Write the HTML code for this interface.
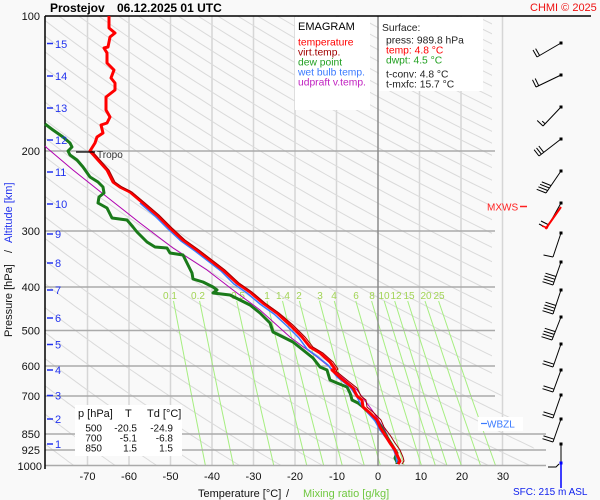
<!DOCTYPE html>
<html><head><meta charset="utf-8"><style>
html,body{margin:0;padding:0;background:#f9f9f9;}
svg{display:block;font-family:"Liberation Sans",Arial,sans-serif;}
</style></head><body>
<svg width="600" height="500" viewBox="0 0 600 500" xmlns="http://www.w3.org/2000/svg">
<defs><clipPath id="cp"><polygon points="45,16 492,16 492,380 545,466 45,466"/></clipPath></defs>
<rect x="0" y="0" width="600" height="500" fill="#f9f9f9"/>
<!-- isotherms -->
<g stroke="#d6d6d6" stroke-width="1.5">
<line x1="87.5" y1="16" x2="87.5" y2="466"/><line x1="129" y1="16" x2="129" y2="466"/>
<line x1="170.5" y1="16" x2="170.5" y2="466"/><line x1="212" y1="16" x2="212" y2="466"/>
<line x1="253.5" y1="16" x2="253.5" y2="466"/><line x1="295" y1="16" x2="295" y2="466"/>
<line x1="336.5" y1="16" x2="336.5" y2="466"/><line x1="419.5" y1="16" x2="419.5" y2="466"/>
<line x1="461" y1="16" x2="461" y2="466"/><line x1="502.5" y1="16" x2="502.5" y2="466"/>
</g>
<!-- dry adiabats -->
<path id="adi" d="" fill="none" stroke="#dadada" stroke-width="1" clip-path="url(#cp)"/>
<!-- mixing ratio lines -->
<g fill="none" stroke="#a6ee80" stroke-width="1">
<polyline points="173.5,301 191.7,396 205.5,466"/>
<polyline points="199.6,301 218.9,396 233.6,466"/>
<polyline points="236.7,301 257.8,396 273.9,466"/>
<polyline points="267,301 289.6,396 306.9,466"/>
<polyline points="282.5,301 305.9,396 323.8,466"/>
<polyline points="299.4,301 323.8,396 342.4,466"/>
<polyline points="319.5,301 344.9,396 364.4,466"/>
<polyline points="334.3,301 360.5,396 380.5,466"/>
<polyline points="355.8,301 383.2,396 404.2,466"/>
<polyline points="371.6,301 399.9,396 421.6,466"/>
<polyline points="384.2,301 413.2,396 435.5,466"/>
<polyline points="394.7,301 424.3,396 447.1,466"/>
<polyline points="407.7,301 438.1,396 461.5,466"/>
<polyline points="425,301 456.5,396 480.7,466"/>
<polyline points="438.6,301 470.9,396 495.7,466"/>
</g>
<!-- pressure lines -->
<g stroke="#aaaaaa" stroke-width="1.5">
<line x1="45" y1="151" x2="495" y2="151"/><line x1="45" y1="231" x2="495" y2="231"/>
<line x1="45" y1="287" x2="495" y2="287"/><line x1="45" y1="330.5" x2="495" y2="330.5"/>
<line x1="45" y1="366" x2="495" y2="366"/><line x1="45" y1="396" x2="495" y2="396"/>
<line x1="45" y1="434" x2="546" y2="434"/><line x1="45" y1="450" x2="546" y2="450"/>
<line x1="45" y1="465.5" x2="546" y2="465.5"/>
</g>
<line x1="378" y1="16" x2="378" y2="466" stroke="#8a8a8a" stroke-width="1.5"/>
<!-- frame -->
<line x1="45" y1="16" x2="591" y2="16" stroke="#000" stroke-width="1.5"/>
<line x1="45" y1="16" x2="45" y2="469" stroke="#000" stroke-width="1.5"/>
<!-- boxes -->
<rect x="295" y="17" width="75" height="93" fill="#ffffff"/>
<rect x="379" y="17" width="104" height="74" fill="#ffffff"/>
<rect x="75" y="405" width="107" height="51" fill="#ffffff"/>
<!-- mixing labels -->
<g font-size="10" fill="#a2d455" text-anchor="middle">
<text x="170" y="299">0.1</text><text x="198" y="299">0.2</text><text x="238" y="299">0.5</text>
<text x="267" y="299">1</text><text x="283" y="299">1.4</text><text x="299" y="299">2</text>
<text x="320" y="299">3</text><text x="334" y="299">4</text><text x="356" y="299">6</text>
<text x="372" y="299">8</text><text x="384" y="299">10</text><text x="396" y="299">12</text>
<text x="409" y="299">15</text><text x="426" y="299">20</text><text x="439" y="299">25</text>
</g>
<!-- data curves -->
<polyline fill="none" stroke="#b000b0" stroke-width="1" points="45,146 47,148 73,170 107,197 140,223 173,248 207,270 233,290 260,310 290,337 317,357 337,373 357,390 372,410 385,430 393,448 398,464"/>
<polyline fill="none" stroke="#1a7a1a" stroke-width="3" stroke-linejoin="round" points="45,124 53,130 63,137 70,143 72,147 68,151 70,155 77,160 83,167 90,177 98,182 103,187 104,193 99,197 98,203 107,208 112,218 127,220 133,227 137,232 142,237 147,242 155,247 167,248 170,253 183,255 187,263 192,273 193,279 203,282 213,287 217,290 213,293 230,295 240,300 250,305 260,313 270,323 273,332 283,337 293,342 303,350 313,358 320,367 327,370 330,380 337,383 347,387 350,393 351,396 352,400 358,403 363,407 373,417 380,425 387,437 392,445 397,453 395,458 397,462 397,464"/>
<polyline fill="none" stroke="#3a7aff" stroke-width="1.5" points="140,203 155,216 168,229 181,241 195,251 208,261 221,271 234,284 247,293 260,304 274,314 287,326 299,338 307,349 318,357 328,365 337,377 350,387 357,397 360,403 368,413 375,421 380,430 386,438 392,447 396,455 397,463"/>
<polyline fill="none" stroke="#ff0000" stroke-width="3" stroke-linejoin="round" points="109,16 109,28 115,33 110,37 108,47 104,48 107,53 107,63 114,70 111,78 115,83 115,90 106,97 106,110 110,117 107,123 101,125 103,133 97,137 95,143 90,151 98,160 107,170 113,182 120,187 130,192 143,203 157,215 170,228 183,240 197,250 210,260 223,270 237,283 250,292 263,303 277,313 290,325 302,337 310,347 320,353 330,362 335,369 332,370 343,380 353,388 357,396 362,400 363,407 370,413 377,420 380,427 385,435 390,443 395,450 398,457 400,461 398,464"/>
<polyline fill="none" stroke="#a00000" stroke-width="1" points="92,151 100,160 109,170 115,182 122,187 132,192 145,203 159,215 172,228 185,240 199,250 212,260 225,270 239,283 252,292 265,303 279,313 293,325 305,337 313,347 323,353 333,362 338,369 336,371 347,380 357,388 361,396 366,400 367,407 374,413 381,420 384,427 390,435 395,443 400,450 403,457 404,461 402,464"/>
<!-- Tropo -->
<line x1="76" y1="152" x2="95" y2="152" stroke="#000" stroke-width="1.2"/>
<text x="97" y="158" font-size="10" fill="#333">Tropo</text>
<!-- title -->
<text x="50" y="12" font-size="12" font-weight="bold" fill="#000">Prostejov</text>
<text x="117" y="12" font-size="12" font-weight="bold" fill="#000">06.12.2025 01 UTC</text>
<text x="530" y="11" font-size="11" fill="#ee1111">CHMI © 2025</text>
<!-- legend -->
<text x="298" y="30" font-size="11" fill="#000">EMAGRAM</text>
<g font-size="10.3">
<text x="298" y="45.5" fill="#ff0000">temperature</text>
<text x="298" y="55.5" fill="#a00000">virt.temp.</text>
<text x="298" y="65.5" fill="#22a022">dew point</text>
<text x="298" y="75.5" fill="#3a7aff">wet bulb temp.</text>
<text x="298" y="85.5" fill="#c020c0">udpraft v.temp.</text>
<text x="382" y="31" fill="#222">Surface:</text>
<text x="386" y="43.5" fill="#222">press: 989.8 hPa</text>
<text x="386" y="53.5" fill="#ff0000">temp: 4.8 °C</text>
<text x="386" y="63.5" fill="#22a022">dwpt: 4.5 °C</text>
<text x="386" y="77.5" fill="#222">t-conv: 4.8 °C</text>
<text x="386" y="87.5" fill="#222">t-mxfc: 15.7 °C</text>
</g>
<!-- table -->
<g font-size="11" fill="#111">
<text x="78" y="417">p [hPa]</text><text x="125" y="417">T</text><text x="147" y="417">Td [°C]</text>
</g>
<g font-size="10" fill="#111" text-anchor="end">
<text x="102" y="431.7">500</text><text x="137" y="431.7">-20.5</text><text x="173" y="431.7">-24.9</text>
<text x="102" y="441.7">700</text><text x="137" y="441.7">-5.1</text><text x="173" y="441.7">-6.8</text>
<text x="102" y="451.7">850</text><text x="137" y="451.7">1.5</text><text x="173" y="451.7">1.5</text>
</g>
<!-- pressure labels -->
<g font-size="11" fill="#111" text-anchor="end">
<text x="40" y="20">100</text><text x="40" y="155">200</text><text x="40" y="235">300</text>
<text x="40" y="291">400</text><text x="40" y="334.5">500</text><text x="40" y="370">600</text>
<text x="40" y="400">700</text><text x="40" y="438">850</text><text x="40" y="454">925</text>
<text x="42" y="470">1000</text>
</g>
<!-- altitude ticks -->
<g stroke="#2233ee" stroke-width="1.5">
<line x1="47" y1="43.5" x2="53" y2="43.5"/><line x1="47" y1="76" x2="53" y2="76"/>
<line x1="47" y1="108" x2="53" y2="108"/><line x1="47" y1="140" x2="53" y2="140"/>
<line x1="47" y1="172" x2="53" y2="172"/><line x1="47" y1="204" x2="53" y2="204"/>
<line x1="47" y1="234" x2="53" y2="234"/><line x1="47" y1="263" x2="53" y2="263"/>
<line x1="47" y1="290" x2="53" y2="290"/><line x1="47" y1="318" x2="53" y2="318"/>
<line x1="47" y1="344.5" x2="53" y2="344.5"/><line x1="47" y1="370" x2="53" y2="370"/>
<line x1="47" y1="395.5" x2="53" y2="395.5"/><line x1="47" y1="419" x2="53" y2="419"/>
<line x1="47" y1="444" x2="53" y2="444"/>
</g>
<g font-size="11" fill="#2233ee">
<text x="55" y="48">15</text><text x="55" y="80">14</text><text x="55" y="112">13</text>
<text x="55" y="144">12</text><text x="55" y="176">11</text><text x="55" y="208">10</text>
<text x="55" y="238">9</text><text x="55" y="267">8</text><text x="55" y="294">7</text>
<text x="55" y="322">6</text><text x="55" y="348.5">5</text><text x="55" y="374">4</text>
<text x="55" y="399.5">3</text><text x="55" y="423">2</text><text x="55" y="448">1</text>
</g>
<!-- temperature labels -->
<g font-size="11" fill="#111" text-anchor="middle">
<text x="87.5" y="480">-70</text><text x="129" y="480">-60</text><text x="170.5" y="480">-50</text>
<text x="212" y="480">-40</text><text x="253.5" y="480">-30</text><text x="295" y="480">-20</text>
<text x="337" y="480">-10</text><text x="378" y="480">0</text><text x="421" y="480">10</text>
<text x="462" y="480">20</text><text x="503" y="480">30</text>
</g>
<text x="198" y="497" font-size="11" fill="#111">Temperature [°C]</text>
<text x="286" y="497" font-size="11" fill="#111">/</text>
<text x="303" y="497" font-size="11" fill="#70c840">Mixing ratio [g/kg]</text>
<!-- y axis title -->
<g transform="translate(12,337) rotate(-90)" font-size="11">
<text x="0" y="0" fill="#111">Pressure [hPa]</text>
<text x="84" y="0" fill="#111">/</text>
<text x="94" y="0" fill="#2233ee">Altitude [km]</text>
</g>
<!-- MXWS / WBZL -->
<text x="487" y="210.5" font-size="10" fill="#ff2020">MXWS</text>
<line x1="520" y1="206.5" x2="527" y2="206.5" stroke="#ff2020" stroke-width="1.5"/>
<rect x="478" y="417" width="45" height="14" fill="#ffffff"/>
<line x1="481" y1="423.5" x2="487" y2="423.5" stroke="#3a7aff" stroke-width="1.2"/>
<text x="487" y="427.5" font-size="10" fill="#3a7aff">WBZL</text>
<!-- wind barbs -->
<g stroke="#000" stroke-width="1" fill="none">
<line x1="561" y1="43" x2="537" y2="57"/><line x1="537" y1="57" x2="533" y2="50"/><line x1="539.6" y1="55.5" x2="535.6" y2="48.6"/>
<line x1="561" y1="75" x2="536" y2="87"/><line x1="536" y1="87" x2="532.5" y2="79.8"/><line x1="538.7" y1="85.7" x2="535.2" y2="78.5"/>
<line x1="561" y1="107" x2="543" y2="126"/><line x1="543" y1="126" x2="537.2" y2="120.5"/><line x1="545.1" y1="123.8" x2="542.2" y2="121.1"/>
<line x1="561" y1="139" x2="539" y2="156"/><line x1="539" y1="156" x2="534.1" y2="149.7"/><line x1="541.4" y1="154.2" x2="536.5" y2="147.9"/><line x1="543.7" y1="152.3" x2="538.8" y2="146"/>
<line x1="561" y1="171" x2="546" y2="193"/><line x1="546" y1="193" x2="536.7" y2="189.3"/><line x1="547.7" y1="190.5" x2="538.4" y2="186.8"/><line x1="549.4" y1="188" x2="540.1" y2="184.3"/><line x1="551.1" y1="185.6" x2="541.8" y2="181.9"/>
<line x1="561" y1="203" x2="547" y2="228"/><line x1="547" y1="228" x2="539" y2="224"/><line x1="549" y1="225" x2="541" y2="221"/>
<line x1="561" y1="233" x2="553" y2="257"/><line x1="553" y1="257" x2="543.5" y2="255"/>
<line x1="561" y1="262" x2="553" y2="285"/><line x1="553" y1="285" x2="542.5" y2="281.7"/><line x1="554" y1="282.2" x2="543.5" y2="278.9"/><line x1="555" y1="279.3" x2="544.5" y2="276"/><line x1="556" y1="276.5" x2="545.5" y2="273.2"/>
<line x1="561" y1="290" x2="553" y2="314"/><line x1="553" y1="314" x2="542.5" y2="310.7"/><line x1="554" y1="311.2" x2="543.5" y2="307.9"/><line x1="555" y1="308.3" x2="544.5" y2="305"/><line x1="556" y1="305.5" x2="545.5" y2="302.2"/>
<line x1="561" y1="317" x2="552" y2="340"/><line x1="552" y1="340" x2="541.5" y2="336.7"/><line x1="553.1" y1="337.2" x2="542.6" y2="333.9"/><line x1="554.2" y1="334.4" x2="543.7" y2="331.1"/><line x1="555.3" y1="331.6" x2="544.8" y2="328.3"/>
<line x1="561" y1="344" x2="553" y2="367"/><line x1="553" y1="367" x2="542.5" y2="363.7"/><line x1="554" y1="364.2" x2="543.5" y2="360.9"/>
<line x1="561" y1="370" x2="553" y2="392"/><line x1="553" y1="392" x2="542.5" y2="388.7"/><line x1="554" y1="389.2" x2="543.5" y2="385.9"/>
<line x1="561" y1="395" x2="553" y2="418"/><line x1="553" y1="418" x2="542.5" y2="414.7"/><line x1="554" y1="415.2" x2="543.5" y2="411.9"/>
<line x1="561" y1="419" x2="553" y2="442"/><line x1="553" y1="442" x2="542.5" y2="438.7"/><line x1="554" y1="439.2" x2="543.5" y2="435.9"/>
<line x1="561" y1="444" x2="561" y2="463"/><polyline points="548,467 556,467 559,464"/>
</g>
<line x1="561" y1="207" x2="545.5" y2="229" stroke="#ff0000" stroke-width="2"/>
<line x1="542" y1="226" x2="548" y2="228" stroke="#ff0000" stroke-width="1.5"/>
<g fill="#000">
<rect x="559.5" y="41.5" width="3" height="3"/><rect x="559.5" y="73.5" width="3" height="3"/>
<rect x="559.5" y="105.5" width="3" height="3"/><rect x="559.5" y="137.5" width="3" height="3"/>
<rect x="559.5" y="169.5" width="3" height="3"/><rect x="559.5" y="201.5" width="3" height="3"/>
<rect x="559.5" y="231.5" width="3" height="3"/><rect x="559.5" y="260.5" width="3" height="3"/>
<rect x="559.5" y="288.5" width="3" height="3"/><rect x="559.5" y="315.5" width="3" height="3"/>
<rect x="559.5" y="342.5" width="3" height="3"/><rect x="559.5" y="368.5" width="3" height="3"/>
<rect x="559.5" y="393.5" width="3" height="3"/><rect x="559.5" y="417.5" width="3" height="3"/>
<rect x="559.5" y="442.5" width="3" height="3"/>
</g>
<line x1="561" y1="463" x2="561" y2="488" stroke="#0000ff" stroke-width="1.5"/>
<rect x="559.5" y="461.5" width="3" height="3" fill="#0000ff"/>
<text x="513" y="495" font-size="10" fill="#1122ee">SFC: 215 m ASL</text>
</svg>
<script>
(function(){
var d='';
for(var th=190;th<=900;th+=10){
  var s='';
  for(var p=1000;p>=100;p-=5){
    var T=th*Math.pow(p/1000,0.32)-273.15;
    var x=378+4.15*T, y=16+450*Math.log(p/100)/Math.LN10;
    s+=(s?'L':'M')+x.toFixed(1)+' '+y.toFixed(1);
  }
  d+=s;
}
document.getElementById('adi').setAttribute('d',d);
})();
</script>
</body></html>
